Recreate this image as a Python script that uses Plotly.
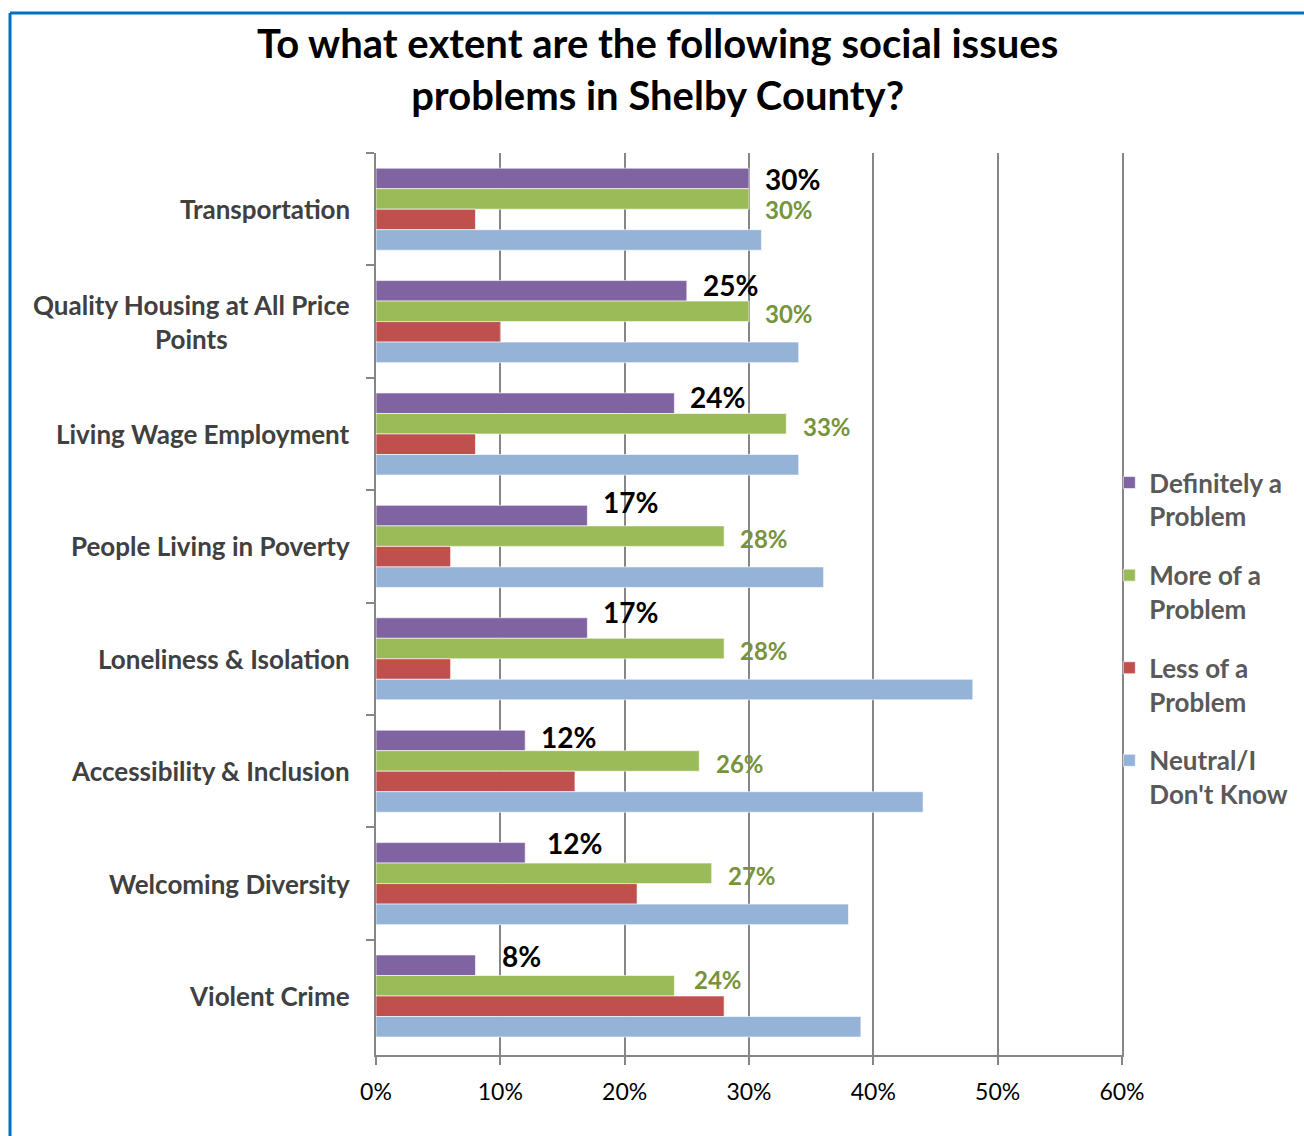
import plotly.graph_objects as go

# Survey categories (top to bottom) and response shares in percent
categories = [
    "Transportation",
    "Quality Housing at All Price<br>Points",
    "Living Wage Employment",
    "People Living in Poverty",
    "Loneliness & Isolation",
    "Accessibility & Inclusion",
    "Welcoming Diversity",
    "Violent Crime",
]
definitely = [30, 25, 24, 17, 17, 12, 12, 8]
more_of = [30, 30, 33, 28, 28, 26, 27, 24]
less_of = [8, 10, 8, 6, 6, 16, 21, 28]
neutral = [31, 34, 34, 36, 48, 44, 38, 39]

series_names = [
    "Definitely a<br>Problem",
    "More of a<br>Problem",
    "Less of a<br>Problem",
    "Neutral/I<br>Don't Know",
]
x_ticks = [0, 10, 20, 30, 40, 50, 60]
x_tick_text = [f"{t}%" for t in x_ticks]

# Hand placement of the value labels (pixel nudges per category)
definitely_label_dx = [14, 14, 14, 14, 14, 14, 20, 25]
definitely_label_dy = [30, 37, 37, 44, 47, 34, 41, 40]
more_label_dx = [14, 14, 15, 14, 14, 15, 14, 18]
more_label_dy = [0, 8, 8, 8, 8, 8, 8, 17]

colors = ["#8064A2", "#9BBB59", "#C0504D", "#95B3D7"]
FONT = "Lato, 'Open Sans', sans-serif"

fig = go.Figure()
for i, (name, vals) in enumerate(zip(series_names, [definitely, more_of, less_of, neutral])):
    fig.add_trace(go.Bar(
        y=categories, x=vals, name=name, orientation="h",
        marker=dict(color=colors[i], line=dict(color="rgba(255,255,255,0.6)", width=1)),
        legendgroup=f"g{i}", hoverinfo="x+y",
    ))

annotations = []
# Category labels, centred multi-line text right-aligned to the axis
for c in categories:
    annotations.append(dict(
        x=-0.032, xref="paper", y=c, yref="y", text=c, showarrow=False,
        xanchor="right", yanchor="middle", align="center",
        font=dict(family=FONT, size=26, color="#404040", weight="bold"),
    ))
# Value labels for the first two series
for c, v, dx, dy in zip(categories, definitely, definitely_label_dx, definitely_label_dy):
    annotations.append(dict(
        x=v, xref="x", y=c, yref="y", text=f"{v}%", showarrow=False,
        xanchor="left", yanchor="middle", xshift=dx, yshift=dy,
        font=dict(family=FONT, size=28, color="#000000", weight="bold"),
    ))
for c, v, dx, dy in zip(categories, more_of, more_label_dx, more_label_dy):
    annotations.append(dict(
        x=v, xref="x", y=c, yref="y", text=f"{v}%", showarrow=False,
        xanchor="left", yanchor="middle", xshift=dx, yshift=dy,
        font=dict(family=FONT, size=24, color="#77933C", weight="bold"),
    ))

# Chart title
annotations.append(dict(
    x=0.3767, xref="paper", y=1.1507, yref="paper",
    text="To what extent are the following social issues<br>problems in Shelby County?",
    showarrow=False, xanchor="center", yanchor="top", align="center",
    font=dict(family=FONT, size=40, color="#000000", weight="bold"),
))

# Blue frame on the top and left edges
shapes = [
    dict(type="line", xref="paper", yref="paper", x0=-0.4906, x1=1.26, y0=1.1552, y1=1.1552,
         line=dict(color="#0070C0", width=3)),
    dict(type="line", xref="paper", yref="paper", x0=-0.4906, x1=-0.4906, y0=1.1552, y1=-0.1,
         line=dict(color="#0070C0", width=3)),
]

fig.update_layout(
    width=1304, height=1136,
    margin=dict(l=376, r=182, t=153, b=81, autoexpand=False),
    paper_bgcolor="white", plot_bgcolor="white",
    barmode="group", bargap=0.27, bargroupgap=0,
    xaxis=dict(
        range=[0, 60], tickmode="array", tickvals=x_ticks, ticktext=x_tick_text,
        showgrid=True, gridcolor="#868686", gridwidth=1.5,
        showline=True, linecolor="#868686", linewidth=1.5,
        ticks="outside", ticklen=8, tickcolor="#868686", tickwidth=1.5,
        ticklabelstandoff=8,
        tickfont=dict(family=FONT, size=23, color="#000000"),
        zeroline=False, fixedrange=True,
    ),
    yaxis=dict(
        autorange="reversed", showticklabels=False,
        tickson="boundaries", ticks="outside", ticklen=8, tickcolor="#868686", tickwidth=1.5,
        showline=True, linecolor="#868686", linewidth=1.5, mirror=True,
        showgrid=False, fixedrange=True,
    ),
    legend=dict(
        x=0.9830, xanchor="left", y=0.6606, yanchor="top",
        valign="top", tracegroupgap=22, itemwidth=30,
        font=dict(family=FONT, size=26, color="#595959", weight="bold"),
        bgcolor="rgba(0,0,0,0)",
    ),
    annotations=annotations,
    shapes=shapes,
    showlegend=True,
)

fig.write_html("out.html")
